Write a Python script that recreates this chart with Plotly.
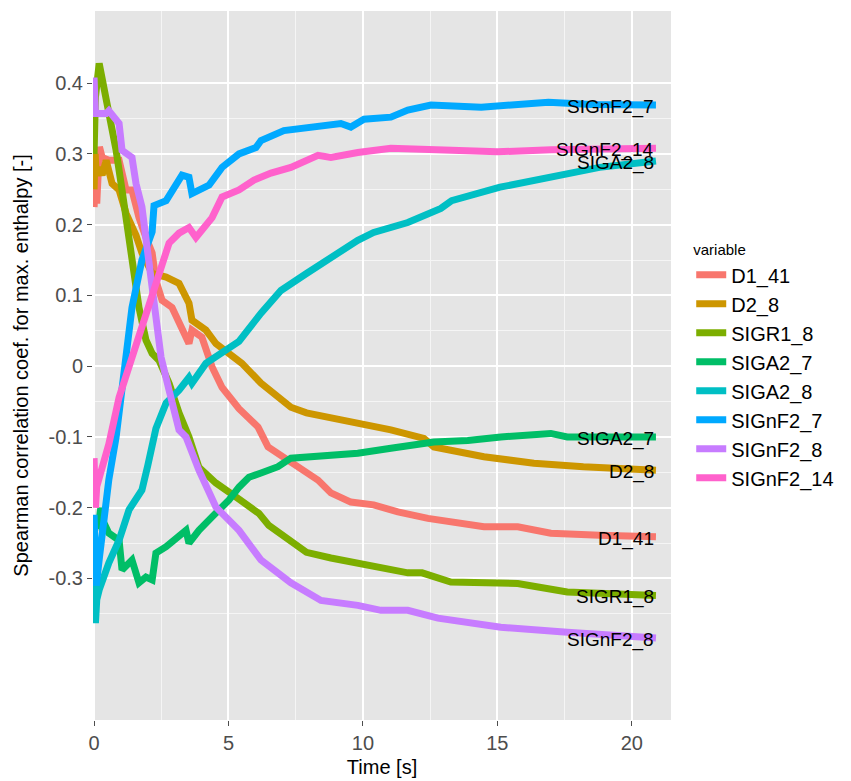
import plotly.graph_objects as go

# ---- data ----
series_names = ["D1_41", "D2_8", "SIGR1_8", "SIGA2_7", "SIGA2_8", "SIGnF2_7", "SIGnF2_8", "SIGnF2_14"]
series_colors = ["#F8766D", "#CD9600", "#7CAE00", "#00BE67", "#00BFC4", "#00A9FF", "#C77CFF", "#FF61CC"]

t_D1_41 = [0, 0.05, 0.1, 0.2, 0.3, 0.55, 0.93, 1.19, 1.41, 1.67, 1.93, 2.16, 2.3, 2.53, 2.9, 3.27, 3.53, 3.64,
           4.01, 4.39, 4.76, 5.39, 6.1, 6.47, 7.06, 7.69, 8.33, 8.81, 9.55, 10.4, 11.3, 12.42, 13.5, 14.5, 15.76,
           16.99, 18.8, 20.9]
y_D1_41 = [0.225, 0.26, 0.23, 0.31, 0.295, 0.291, 0.291, 0.249, 0.249, 0.21, 0.182, 0.16, 0.121, 0.093, 0.083,
           0.055, 0.032, 0.051, 0.041, -0.001, -0.03, -0.06, -0.086, -0.114, -0.128, -0.144, -0.161, -0.179,
           -0.192, -0.196, -0.206, -0.215, -0.222, -0.227, -0.227, -0.236, -0.239, -0.241]

t_D2_8 = [0, 0.04, 0.08, 0.19, 0.3, 0.45, 0.67, 0.93, 1.19, 1.56, 1.78, 2.16, 2.68, 3.16, 3.53, 3.64, 4.16, 4.53,
          5.02, 5.5, 6.21, 6.69, 7.32, 7.9, 8.81, 9.81, 11.04, 12.27, 12.64, 14.5, 16.36, 18.2, 20.9]
y_D2_8 = [0.25, 0.30, 0.27, 0.281, 0.27, 0.291, 0.258, 0.249, 0.216, 0.185, 0.16, 0.131, 0.126, 0.117, 0.089,
          0.065, 0.051, 0.032, 0.018, 0.004, -0.024, -0.038, -0.058, -0.066, -0.073, -0.08, -0.09, -0.102,
          -0.114, -0.128, -0.137, -0.142, -0.147]

t_SIGR1_8 = [0, 0.05, 0.19, 0.3, 0.45, 0.67, 0.82, 1.04, 1.19, 1.38, 1.56, 1.67, 1.93, 2.16, 2.42, 2.79, 3.16,
             3.53, 3.9, 4.53, 5.39, 6.13, 6.5, 7.06, 7.9, 8.81, 9.81, 10.78, 11.67, 12.2, 13.27, 15.76, 17.6, 20.9]
y_SIGR1_8 = [0.30, 0.38, 0.428, 0.408, 0.376, 0.338, 0.305, 0.249, 0.21, 0.174, 0.117, 0.083, 0.037, 0.018,
             0.008, -0.024, -0.066, -0.1, -0.143, -0.165, -0.188, -0.208, -0.225, -0.241, -0.263, -0.271, -0.278,
             -0.285, -0.292, -0.292, -0.305, -0.307, -0.319, -0.324]

t_SIGA2_7 = [0.15, 0.25, 0.3, 0.35, 0.55, 0.93, 1.04, 1.41, 1.67, 1.93, 2.16, 2.3, 2.68, 3.16, 3.42, 3.53, 3.9,
             4.39, 5.02, 5.39, 5.76, 6.21, 6.84, 7.32, 8.55, 9.81, 11.04, 12.27, 12.64, 13.9, 15.13, 16.99, 17.6,
             18.8, 20.9]
y_SIGA2_7 = [-0.23, -0.2, -0.232, -0.22, -0.236, -0.246, -0.288, -0.274, -0.306, -0.298, -0.302, -0.264,
             -0.255, -0.241, -0.232, -0.25, -0.232, -0.213, -0.189, -0.171, -0.157, -0.151, -0.142, -0.13, -0.126,
             -0.123, -0.116, -0.109, -0.107, -0.105, -0.1, -0.095, -0.1, -0.1, -0.1]

t_SIGA2_8 = [0, 0.05, 0.1, 0.19, 0.55, 0.93, 1.3, 1.78, 2.0, 2.3, 2.68, 3.16, 3.53, 3.64, 4.16, 4.76, 5.39, 6.21,
             6.95, 7.9, 8.81, 9.81, 10.4, 11.67, 12.9, 13.3, 15.1, 17.6, 18.8, 20.9]
y_SIGA2_8 = [-0.3, -0.363, -0.33, -0.316, -0.278, -0.246, -0.203, -0.175, -0.14, -0.088, -0.052, -0.034,
             -0.016, -0.024, 0.004, 0.018, 0.035, 0.075, 0.107, 0.131, 0.154, 0.178, 0.189, 0.203, 0.223, 0.234,
             0.253, 0.272, 0.281, 0.29]

t_SIGnF2_7 = [0, 0.08, 0.2, 0.55, 0.82, 1.41, 1.78, 2.16, 2.23, 2.68, 3.27, 3.53, 3.64, 4.28, 4.76, 5.39, 6.02,
              6.21, 7.06, 7.9, 9.18, 9.55, 10.04, 11.04, 11.67, 12.53, 14.4, 16.9, 18.5, 20.9]
y_SIGnF2_7 = [-0.21, -0.31, -0.27, -0.16, -0.1, 0.083, 0.15, 0.19, 0.227, 0.234, 0.27, 0.267, 0.244, 0.256,
              0.281, 0.30, 0.309, 0.319, 0.333, 0.336, 0.343, 0.338, 0.349, 0.352, 0.362, 0.369, 0.366, 0.373,
              0.37, 0.369]

t_SIGnF2_8 = [0, 0.05, 0.45, 0.55, 0.93, 1.04, 1.41, 1.56, 1.78, 1.97, 2.23, 2.49, 2.79, 3.16, 3.42, 3.9, 4.53,
              5.39, 6.21, 7.32, 8.44, 9.81, 10.67, 11.67, 12.79, 13.27, 15.13, 17.6, 20.9]
y_SIGnF2_8 = [0.408, 0.357, 0.357, 0.361, 0.343, 0.305, 0.295, 0.258, 0.225, 0.17, 0.083, 0.013, -0.034,
              -0.09, -0.1, -0.147, -0.199, -0.232, -0.274, -0.306, -0.331, -0.338, -0.345, -0.345, -0.356, -0.359,
              -0.369, -0.376, -0.384]

t_SIGnF2_14 = [0, 0.05, 0.1, 0.55, 0.93, 1.67, 2.3, 2.68, 2.79, 3.16, 3.53, 3.79, 4.39, 4.76, 5.39, 5.95, 6.58,
               7.32, 8.33, 8.81, 9.81, 11.04, 12.9, 15.0, 17.0, 20.9]
y_SIGnF2_14 = [-0.13, -0.2, -0.17, -0.11, -0.044, 0.041, 0.117, 0.164, 0.174, 0.188, 0.196, 0.182, 0.21, 0.239,
               0.249, 0.263, 0.273, 0.281, 0.298, 0.295, 0.302, 0.308, 0.306, 0.303, 0.306, 0.308]

series_t = [t_D1_41, t_D2_8, t_SIGR1_8, t_SIGA2_7, t_SIGA2_8, t_SIGnF2_7, t_SIGnF2_8, t_SIGnF2_14]
series_y = [y_D1_41, y_D2_8, y_SIGR1_8, y_SIGA2_7, y_SIGA2_8, y_SIGnF2_7, y_SIGnF2_8, y_SIGnF2_14]

x_ticks = [0, 5, 10, 15, 20]
x_minor = [2.5, 7.5, 12.5, 17.5]
y_ticks = [-0.3, -0.2, -0.1, 0, 0.1, 0.2, 0.3, 0.4]
y_tick_text = ["-0.3", "-0.2", "-0.1", "0", "0.1", "0.2", "0.3", "0.4"]
y_minor = [-0.35, -0.25, -0.15, -0.05, 0.05, 0.15, 0.25, 0.35]

FONT = "Liberation Sans, Arial, sans-serif"

fig = go.Figure()
annotations = []
for name, color, t, y in zip(series_names, series_colors, series_t, series_y):
    fig.add_trace(go.Scatter(x=t, y=y, mode="lines", name=name,
                             line=dict(color=color, width=7)))
    annotations.append(dict(x=t[-1], y=y[-1], xref="x", yref="y", text=name, showarrow=False,
                            xanchor="right", yanchor="middle", yshift=-2,
                            font=dict(family=FONT, size=19, color="black")))

fig.update_layout(
    width=851, height=781,
    margin=dict(l=93, r=180, t=11, b=61),
    paper_bgcolor="white", plot_bgcolor="#E5E5E5",
    font=dict(family=FONT, size=20, color="black"),
    annotations=annotations,
    legend=dict(
        title=dict(text="variable", font=dict(size=15, family=FONT)),
        x=1.035, xanchor="left", y=0.683, yanchor="top",
        font=dict(size=20, family=FONT), itemwidth=30,
        bgcolor="rgba(0,0,0,0)", tracegroupgap=0,
    ),
    xaxis=dict(
        range=[-0.04, 21.46], tickvals=x_ticks, ticktext=[str(v) for v in x_ticks],
        showgrid=True, gridcolor="white", gridwidth=1.6, zeroline=False,
        ticks="outside", ticklen=5, tickcolor="#4D4D4D", tickwidth=1,
        tickfont=dict(size=20, color="#4D4D4D", family=FONT),
        minor=dict(tickvals=x_minor, showgrid=True, gridcolor="#F5F5F5", gridwidth=0.8, ticks=""),
        title=dict(text="Time [s]", font=dict(size=20, family=FONT), standoff=6),
        showline=False, automargin=False,
    ),
    yaxis=dict(
        range=[-0.5, 0.502], tickvals=y_ticks, ticktext=y_tick_text,
        showgrid=True, gridcolor="white", gridwidth=1.6, zeroline=False,
        ticks="outside", ticklen=5, tickcolor="#4D4D4D", tickwidth=1,
        tickfont=dict(size=20, color="#4D4D4D", family=FONT),
        minor=dict(tickvals=y_minor, showgrid=True, gridcolor="#F5F5F5", gridwidth=0.8, ticks=""),
        title=dict(text="Spearman correlation coef. for max. enthalpy [-]", font=dict(size=20, family=FONT),
                   standoff=14),
        showline=False, automargin=False,
    ),
    showlegend=True,
)

fig.write_html("out.html")
